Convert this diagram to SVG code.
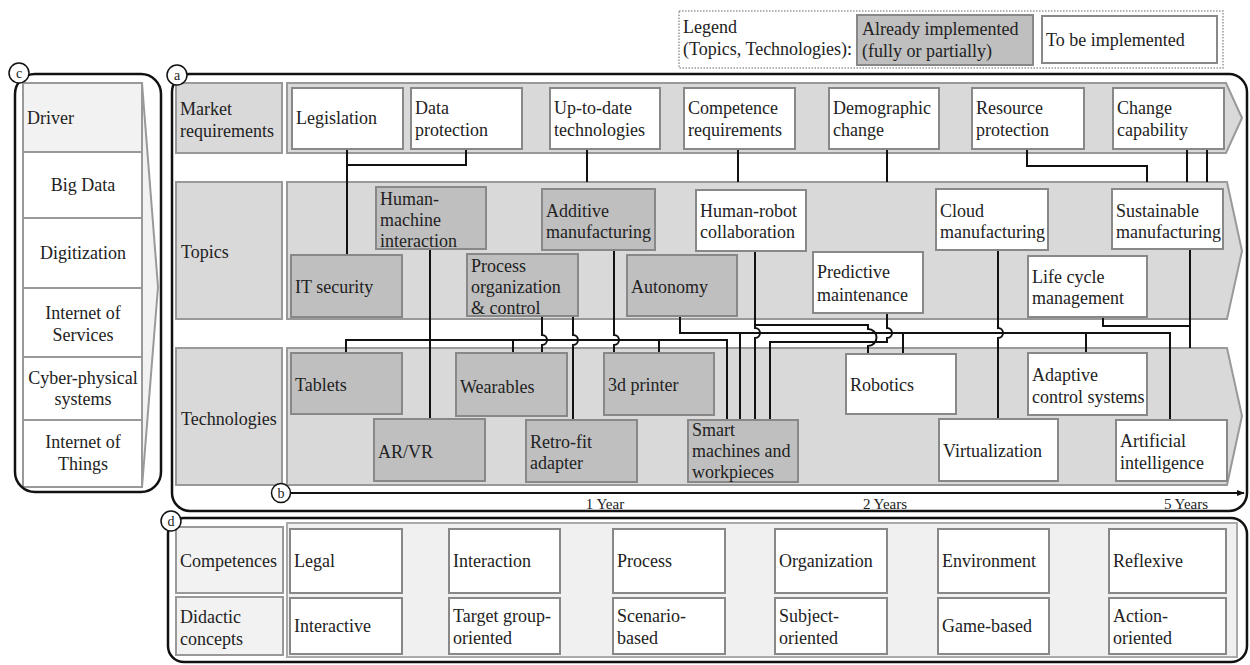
<svg xmlns="http://www.w3.org/2000/svg" width="1250" height="665" viewBox="0 0 1250 665">
<defs>
<style>
text{font-family:"Liberation Serif","Times New Roman",serif;font-size:18px;fill:#222}
.c{text-anchor:middle}
.sm{font-size:15px}
.lt{font-size:14px}
.lbl{fill:#d9d9d9;stroke:#999;stroke-width:2}
.band{fill:#d9d9d9;stroke:#999;stroke-width:2}
.done{fill:#bfbfbf;stroke:#888;stroke-width:2}
.todo{fill:#fff;stroke:#888;stroke-width:2}
.light{fill:#f2f2f2;stroke:#999;stroke-width:2}
.white{fill:#fff;stroke:#999;stroke-width:2}
.panel{fill:none;stroke:#111;stroke-width:2.5}
.circ{fill:#fff;stroke:#111;stroke-width:1.5}
.conn path{fill:none;stroke:#111;stroke-width:2}
</style>
<marker id="arr" viewBox="0 0 10 10" refX="9" refY="5" markerWidth="8" markerHeight="8" markerUnits="userSpaceOnUse" orient="auto">
<path d="M0,1 L10,5 L0,9 z" fill="#111"/>
</marker>
</defs>

<!-- Legend -->
<g id="legend">
<rect x="679" y="11" width="544" height="57" fill="#fff" stroke="#999" stroke-width="1.5" stroke-dasharray="1.5 1.5"/>
<text x="683" y="33">Legend</text>
<text x="683" y="55">(Topics, Technologies):</text>
<rect class="done" x="857" y="15" width="176" height="50"/>
<text x="862" y="35">Already implemented</text>
<text x="862" y="57">(fully or partially)</text>
<rect class="todo" x="1042" y="16" width="175" height="47"/>
<text x="1046" y="46">To be implemented</text>
</g>

<!-- Panel c: Drivers -->
<g id="panel-c">
<polygon class="light" points="23,83 142,83 158,287 142,487 23,487"/>
<rect class="light" x="23" y="83" width="119" height="69"/>
<rect class="white" x="23" y="152" width="119" height="66"/>
<rect class="white" x="23" y="218" width="119" height="70"/>
<rect class="white" x="23" y="288" width="119" height="69"/>
<rect class="white" x="23" y="357" width="119" height="63"/>
<rect class="white" x="23" y="420" width="119" height="67"/>
<text x="27" y="124">Driver</text>
<text class="c" x="83" y="191">Big Data</text>
<text class="c" x="83" y="259">Digitization</text>
<text class="c" x="83" y="319">Internet of</text>
<text class="c" x="83" y="341">Services</text>
<text class="c" x="83" y="384">Cyber-physical</text>
<text class="c" x="83" y="405">systems</text>
<text class="c" x="83" y="448">Internet of</text>
<text class="c" x="83" y="470">Things</text>
<rect class="panel" x="15" y="74" width="146" height="418" rx="20"/>
<circle class="circ" cx="19" cy="73" r="10"/>
<text class="c lt" x="19" y="78">c</text>
</g>

<!-- Panel a bands and labels -->
<g id="panel-a">
<rect class="lbl" x="176" y="83" width="106" height="70"/>
<text x="180" y="115">Market</text>
<text x="180" y="137">requirements</text>
<polygon class="band" points="287,83 1226,83 1242,118 1226,153 287,153"/>
<rect class="lbl" x="176" y="182" width="106" height="137"/>
<text x="181" y="258">Topics</text>
<polygon class="band" points="287,182 1227,182 1242,251 1227,319 287,319"/>
<rect class="lbl" x="176" y="348" width="106" height="137"/>
<text x="181" y="425">Technologies</text>
<polygon class="band" points="287,348 1227,348 1242,416 1227,485 287,485"/>
<rect class="panel" x="172" y="74" width="1075" height="437" rx="18"/>
<circle class="circ" cx="177" cy="75" r="10"/>
<text class="c lt" x="177" y="80">a</text>
</g>

<!-- Connectors -->
<g class="conn" id="connectors">
<path d="M347,149 V255"/>
<path d="M466,149 V165 H347"/>
<path d="M587,149 V182"/>
<path d="M738,149 V182"/>
<path d="M887,149 V182"/>
<path d="M1027,149 V166 H1147 V182"/>
<path d="M1187,149 V182"/>
<path d="M1207,149 V182"/>
<path d="M430,249 V419"/>
<path d="M346,353 V340 H727 V420"/>
<path d="M513,340 V353"/>
<path d="M659,340 V353"/>
<path d="M542,316 V335 a5,5 0 0 1 0,10 V353"/>
<path d="M573,316 V335 a5,5 0 0 1 0,10 V420"/>
<path d="M614,250 V335 a5,5 0 0 1 0,10 V353"/>
<path d="M680,316 V333 H1170 V420"/>
<path d="M740,333 V420"/>
<path d="M903,333 V354"/>
<path d="M1086,333 V353"/>
<path d="M755,251 V328 a5,5 0 0 1 0,10 V420"/>
<path d="M755,325 H868 V329 a8.5,8.5 0 0 1 0,17 V354"/>
<path d="M887,313 V328 a5,5 0 0 1 0,10 V342 H770 V420"/>
<path d="M998,250 V328 a5,5 0 0 1 0,10 V419"/>
<path d="M1190,249 V348"/>
<path d="M1103,317 V326 H1190"/>
</g>

<!-- Market requirement nodes -->
<g id="mr-legislation"><rect class="todo" x="292" y="88" width="111" height="61"/><text x="296" y="124">Legislation</text></g>
<g id="mr-data-protection"><rect class="todo" x="411" y="88" width="111" height="61"/><text x="415" y="114">Data</text><text x="415" y="136">protection</text></g>
<g id="mr-up-to-date"><rect class="todo" x="550" y="88" width="110" height="61"/><text x="554" y="114">Up-to-date</text><text x="554" y="136">technologies</text></g>
<g id="mr-competence"><rect class="todo" x="684" y="88" width="111" height="61"/><text x="688" y="114">Competence</text><text x="688" y="136">requirements</text></g>
<g id="mr-demographic"><rect class="todo" x="829" y="88" width="110" height="61"/><text x="833" y="114">Demographic</text><text x="833" y="136">change</text></g>
<g id="mr-resource"><rect class="todo" x="972" y="88" width="112" height="61"/><text x="976" y="114">Resource</text><text x="976" y="136">protection</text></g>
<g id="mr-change"><rect class="todo" x="1113" y="88" width="111" height="61"/><text x="1117" y="114">Change</text><text x="1117" y="136">capability</text></g>

<!-- Topic nodes -->
<g id="t-it-security"><rect class="done" x="291" y="255" width="111" height="62"/><text x="295" y="293">IT security</text></g>
<g id="t-hmi"><rect class="done" x="376" y="187" width="110" height="62"/><text x="380" y="205">Human-</text><text x="380" y="226">machine</text><text x="380" y="247">interaction</text></g>
<g id="t-process"><rect class="done" x="467" y="254" width="111" height="62"/><text x="471" y="272">Process</text><text x="471" y="293">organization</text><text x="471" y="314">&amp; control</text></g>
<g id="t-additive"><rect class="done" x="542" y="189" width="113" height="61"/><text x="546" y="217">Additive</text><text x="546" y="238">manufacturing</text></g>
<g id="t-autonomy"><rect class="done" x="627" y="255" width="110" height="61"/><text x="631" y="293">Autonomy</text></g>
<g id="t-hrc"><rect class="todo" x="696" y="190" width="110" height="61"/><text x="700" y="217">Human-robot</text><text x="700" y="238">collaboration</text></g>
<g id="t-predictive"><rect class="todo" x="813" y="252" width="110" height="61"/><text x="817" y="278">Predictive</text><text x="817" y="301">maintenance</text></g>
<g id="t-cloud"><rect class="todo" x="936" y="189" width="112" height="61"/><text x="940" y="217">Cloud</text><text x="940" y="238">manufacturing</text></g>
<g id="t-sustainable"><rect class="todo" x="1112" y="189" width="111" height="60"/><text x="1116" y="217">Sustainable</text><text x="1116" y="238">manufacturing</text></g>
<g id="t-lcm"><rect class="todo" x="1028" y="256" width="119" height="61"/><text x="1032" y="283">Life cycle</text><text x="1032" y="304">management</text></g>

<!-- Technology nodes -->
<g id="x-tablets"><rect class="done" x="291" y="353" width="111" height="61"/><text x="295" y="391">Tablets</text></g>
<g id="x-arvr"><rect class="done" x="374" y="419" width="111" height="62"/><text x="378" y="458">AR/VR</text></g>
<g id="x-wearables"><rect class="done" x="456" y="353" width="111" height="63"/><text x="460" y="393">Wearables</text></g>
<g id="x-retrofit"><rect class="done" x="526" y="420" width="111" height="62"/><text x="530" y="448">Retro-fit</text><text x="530" y="469">adapter</text></g>
<g id="x-3dprinter"><rect class="done" x="604" y="353" width="110" height="62"/><text x="608" y="391">3d printer</text></g>
<g id="x-smart"><rect class="done" x="688" y="420" width="110" height="62"/><text x="692" y="436">Smart</text><text x="692" y="457">machines and</text><text x="692" y="478">workpieces</text></g>
<g id="x-robotics"><rect class="todo" x="846" y="354" width="110" height="60"/><text x="850" y="391">Robotics</text></g>
<g id="x-adaptive"><rect class="todo" x="1028" y="353" width="119" height="62"/><text x="1032" y="381">Adaptive</text><text x="1032" y="403">control systems</text></g>
<g id="x-virtualization"><rect class="todo" x="939" y="419" width="119" height="62"/><text x="943" y="457">Virtualization</text></g>
<g id="x-ai"><rect class="todo" x="1116" y="420" width="111" height="61"/><text x="1120" y="447">Artificial</text><text x="1120" y="469">intelligence</text></g>

<!-- Timeline b -->
<g id="timeline">
<path d="M291,493 H1244" stroke="#111" stroke-width="2" fill="none" marker-end="url(#arr)"/>
<circle class="circ" cx="281" cy="493" r="9.5"/>
<text class="c lt" x="281" y="498">b</text>
<text class="c sm" x="605" y="509">1 Year</text>
<text class="c sm" x="885" y="509">2 Years</text>
<text class="c sm" x="1186" y="509">5 Years</text>
</g>

<!-- Panel d -->
<g id="panel-d">
<rect x="287" y="523" width="950" height="134" fill="#f0f0f0" stroke="#aaa" stroke-width="2"/>
<rect class="light" x="176" y="527" width="107" height="66"/>
<text x="180" y="567">Competences</text>
<rect class="light" x="176" y="597" width="107" height="58"/>
<text x="180" y="623">Didactic</text>
<text x="180" y="645">concepts</text>
<rect class="panel" x="168" y="518" width="1079" height="144" rx="16"/>
<circle class="circ" cx="171" cy="521" r="10"/>
<text class="c lt" x="171" y="526">d</text>
</g>
<g id="c-legal"><rect class="todo" x="290" y="529" width="112" height="64"/><text x="294" y="567">Legal</text></g>
<g id="c-interaction"><rect class="todo" x="449" y="529" width="111" height="64"/><text x="453" y="567">Interaction</text></g>
<g id="c-process"><rect class="todo" x="613" y="529" width="112" height="64"/><text x="617" y="567">Process</text></g>
<g id="c-organization"><rect class="todo" x="775" y="529" width="112" height="64"/><text x="779" y="567">Organization</text></g>
<g id="c-environment"><rect class="todo" x="938" y="529" width="111" height="64"/><text x="942" y="567">Environment</text></g>
<g id="c-reflexive"><rect class="todo" x="1109" y="529" width="117" height="64"/><text x="1113" y="567">Reflexive</text></g>
<g id="d-interactive"><rect class="todo" x="290" y="598" width="112" height="56"/><text x="294" y="632">Interactive</text></g>
<g id="d-target"><rect class="todo" x="449" y="598" width="111" height="56"/><text x="453" y="622">Target group-</text><text x="453" y="644">oriented</text></g>
<g id="d-scenario"><rect class="todo" x="613" y="598" width="112" height="56"/><text x="617" y="622">Scenario-</text><text x="617" y="644">based</text></g>
<g id="d-subject"><rect class="todo" x="775" y="598" width="112" height="56"/><text x="779" y="622">Subject-</text><text x="779" y="644">oriented</text></g>
<g id="d-game"><rect class="todo" x="938" y="598" width="111" height="56"/><text x="942" y="632">Game-based</text></g>
<g id="d-action"><rect class="todo" x="1109" y="598" width="117" height="56"/><text x="1113" y="622">Action-</text><text x="1113" y="644">oriented</text></g>
</svg>
